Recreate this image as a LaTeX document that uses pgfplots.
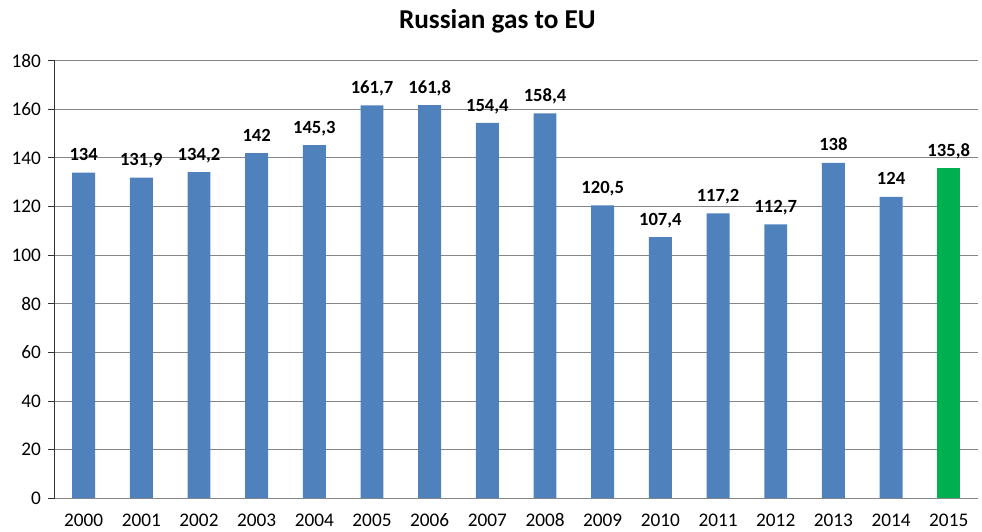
\documentclass[border=0pt]{standalone}
\usepackage{fontspec}
\setmainfont{Carlito}
\usepackage{pgfplots}
\pgfplotsset{compat=1.18}

\definecolor{barblue}{HTML}{4F81BD}
\definecolor{bargreen}{HTML}{00B050}
\definecolor{gridgray}{HTML}{868686}

\begin{document}
\begin{tikzpicture}
\begin{axis}[
  name=ax,
  scale only axis,
  width=694.5pt, height=329.25pt,
  xmin=-0.5, xmax=15.5,
  ymin=0, ymax=180,
  ytick={0,20,...,180},
  xtick={0,...,15},
  xticklabels={2000,2001,2002,2003,2004,2005,2006,2007,2008,2009,2010,2011,2012,2013,2014,2015},
  extra x ticks={-0.5,0.5,...,15.5},
  extra x tick labels={},
  extra x tick style={major tick length=3.75pt, tick style={gridgray, line width=0.75pt}, grid=none},
  axis x line*=bottom,
  axis y line*=left,
  x axis line style={gridgray, line width=0.75pt, -},
  y axis line style={black!80, line width=0.75pt, -},
  tick align=outside,
  major tick length=5pt,
  ytick style={black!80, line width=0.75pt},
  xtick style={draw=none},
  ymajorgrids,
  grid style={gridgray, line width=0.75pt},
  /pgf/number format/assume math mode=true,
  ticklabel style={font=\fontsize{14.5}{16}\selectfont},
  yticklabel style={xshift=-2pt},
  xticklabel style={anchor=base, yshift=-16.5pt},
  title={Russian gas to EU},
  title style={at={(0.4795,1)}, anchor=center, yshift=23.5pt, font=\bfseries\fontsize{20.5}{23}\selectfont},
  ybar, bar width=17.25pt, bar shift=0pt,
  nodes near coords,
  /pgf/number format/.cd, use comma, fixed, precision=1,
  /pgfplots/.cd,
  every node near coord/.append style={font=\bfseries\fontsize{14}{16}\selectfont, black, anchor=base, yshift=9pt, inner sep=0pt},
]
\addplot[fill=barblue, draw=none] coordinates {
  (0,134) (1,131.9) (2,134.2) (3,142) (4,145.3) (5,161.7) (6,161.8) (7,154.4)
  (8,158.4) (9,120.5) (10,107.4) (11,117.2) (12,112.7) (13,138) (14,124)
};
\addplot[fill=bargreen, draw=none] coordinates {(15,135.8)};
\end{axis}
\path[use as bounding box] ([xshift=-41.25pt, yshift=-23.25pt]ax.south west) rectangle ([xshift=0.75pt, yshift=45.75pt]ax.north east);
\end{tikzpicture}
\end{document}
